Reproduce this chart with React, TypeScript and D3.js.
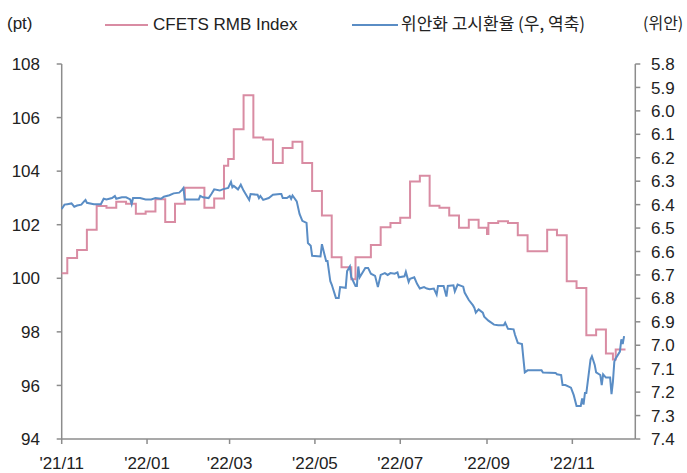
import React from "react";
import * as d3 from "d3";

const cfetsDates = [
  "2021-11-01","2021-11-05","2021-11-12","2021-11-19","2021-11-26","2021-12-03","2021-12-10","2021-12-17",
  "2021-12-24","2021-12-31","2022-01-07","2022-01-14","2022-01-21","2022-01-28","2022-02-11","2022-02-18",
  "2022-02-25","2022-02-28","2022-03-04","2022-03-11","2022-03-18","2022-03-25","2022-04-01","2022-04-08",
  "2022-04-15","2022-04-22","2022-04-29","2022-05-06","2022-05-13","2022-05-20","2022-05-27","2022-05-30",
  "2022-06-10","2022-06-17","2022-06-24","2022-07-01","2022-07-08","2022-07-15","2022-07-22","2022-07-29",
  "2022-08-05","2022-08-12","2022-08-19","2022-08-26","2022-09-01","2022-09-02","2022-09-09","2022-09-16",
  "2022-09-23","2022-09-30","2022-10-14","2022-10-21","2022-10-28","2022-11-04","2022-11-11","2022-11-18",
  "2022-11-25","2022-11-30","2022-12-02","2022-12-09"
];
const cfetsValues = [
  100.19,100.76,101.06,101.81,102.70,102.63,102.86,102.78,
  102.41,102.49,102.95,102.10,102.78,103.38,102.63,102.98,
  104.20,104.45,105.56,106.83,105.26,105.18,104.30,104.86,
  105.10,104.30,103.26,102.34,100.79,100.41,99.96,100.79,
  101.24,101.91,102.06,102.26,103.61,103.83,102.71,102.63,
  102.34,101.89,102.19,101.89,101.65,102.06,102.13,102.06,
  101.61,101.01,101.81,101.61,99.89,99.64,97.87,98.09,
  97.19,96.97,97.34,97.34
];

const rateDates = [
  "2021-11-01","2021-11-03","2021-11-05","2021-11-08","2021-11-10","2021-11-12","2021-11-15","2021-11-17",
  "2021-11-18","2021-11-19","2021-11-24","2021-11-29","2021-12-01","2021-12-03","2021-12-07","2021-12-09",
  "2021-12-10","2021-12-14","2021-12-17","2021-12-20","2021-12-21","2021-12-22","2021-12-27","2021-12-31",
  "2022-01-04","2022-01-07","2022-01-11","2022-01-13","2022-01-17","2022-01-20","2022-01-24","2022-01-26",
  "2022-01-27","2022-01-28","2022-02-07","2022-02-08","2022-02-10","2022-02-14","2022-02-16","2022-02-18",
  "2022-02-22","2022-02-24","2022-02-28","2022-03-02","2022-03-03","2022-03-04","2022-03-07","2022-03-09",
  "2022-03-11","2022-03-15","2022-03-16","2022-03-21","2022-03-22","2022-03-23","2022-03-25","2022-03-29",
  "2022-04-01","2022-04-06","2022-04-07","2022-04-08","2022-04-11","2022-04-13","2022-04-14","2022-04-15",
  "2022-04-18","2022-04-20","2022-04-22","2022-04-25","2022-04-26","2022-04-28","2022-04-29","2022-05-05",
  "2022-05-06","2022-05-09","2022-05-10","2022-05-12","2022-05-13","2022-05-16","2022-05-18","2022-05-19",
  "2022-05-23","2022-05-24","2022-05-26","2022-05-27","2022-05-30","2022-05-31","2022-06-01","2022-06-02",
  "2022-06-06","2022-06-08","2022-06-10","2022-06-13","2022-06-15","2022-06-17","2022-06-20","2022-06-22",
  "2022-06-24","2022-06-27","2022-06-29","2022-06-30","2022-07-04","2022-07-05","2022-07-07","2022-07-08",
  "2022-07-11","2022-07-13","2022-07-15","2022-07-18","2022-07-20","2022-07-22","2022-07-25","2022-07-27",
  "2022-07-28","2022-08-01","2022-08-03","2022-08-04","2022-08-08","2022-08-09","2022-08-11","2022-08-15",
  "2022-08-16","2022-08-19","2022-08-22","2022-08-23","2022-08-24","2022-08-26","2022-08-29","2022-08-30",
  "2022-09-02","2022-09-06","2022-09-09","2022-09-13","2022-09-14","2022-09-16","2022-09-20","2022-09-21",
  "2022-09-23","2022-09-26","2022-09-27","2022-09-28","2022-09-30","2022-10-10","2022-10-11","2022-10-20",
  "2022-10-21","2022-10-24","2022-10-25","2022-10-27","2022-10-31","2022-11-02","2022-11-04","2022-11-07",
  "2022-11-08","2022-11-09","2022-11-10","2022-11-11","2022-11-14","2022-11-15","2022-11-17","2022-11-18",
  "2022-11-21","2022-11-22","2022-11-23","2022-11-25","2022-11-28","2022-11-29","2022-11-30","2022-12-01",
  "2022-12-02","2022-12-05","2022-12-06","2022-12-07","2022-12-08"
];
const rateValues = [
  6.419,6.400,6.398,6.395,6.409,6.404,6.400,6.386,
  6.380,6.392,6.398,6.398,6.375,6.378,6.372,6.363,
  6.375,6.369,6.369,6.378,6.398,6.372,6.372,6.378,
  6.378,6.372,6.375,6.366,6.360,6.352,6.349,6.337,
  6.329,6.378,6.378,6.363,6.369,6.372,6.355,6.335,
  6.340,6.335,6.329,6.303,6.326,6.320,6.335,6.315,
  6.340,6.380,6.355,6.358,6.372,6.363,6.380,6.372,
  6.358,6.355,6.355,6.372,6.372,6.363,6.375,6.361,
  6.386,6.440,6.469,6.478,6.564,6.575,6.618,6.621,
  6.569,6.641,6.641,6.727,6.741,6.798,6.798,6.752,
  6.755,6.684,6.664,6.710,6.747,6.747,6.664,6.710,
  6.670,6.670,6.695,6.704,6.752,6.700,6.692,6.700,
  6.692,6.695,6.689,6.710,6.706,6.687,6.730,6.716,
  6.710,6.738,6.758,6.752,6.758,6.761,6.758,6.784,
  6.747,6.747,6.792,6.747,6.744,6.770,6.741,6.750,
  6.775,6.807,6.830,6.841,6.861,6.847,6.861,6.878,
  6.895,6.912,6.915,6.915,6.904,6.930,6.932,6.955,
  6.990,6.995,7.056,7.116,7.107,7.107,7.116,7.118,
  7.124,7.127,7.170,7.170,7.181,7.213,7.259,7.259,
  7.227,7.253,7.204,7.204,7.061,7.047,7.084,7.116,
  7.127,7.170,7.124,7.138,7.138,7.209,7.156,7.070,
  7.056,7.027,6.975,6.995,6.961
];

const leftTicks = [94, 96, 98, 100, 102, 104, 106, 108];
const rightTicks = [5.8, 5.9, 6.0, 6.1, 6.2, 6.3, 6.4, 6.5, 6.6, 6.7, 6.8, 6.9, 7.0, 7.1, 7.2, 7.3, 7.4];
const xTickDates = ["2021-11-01", "2022-01-01", "2022-03-01", "2022-05-01", "2022-07-01", "2022-09-01", "2022-11-01"];
const xTickLabels = ["'21/11", "'22/01", "'22/03", "'22/05", "'22/07", "'22/09", "'22/11"];
const seriesNames = ["CFETS RMB Index", "위안화 고시환율 (우, 역축)"];
const leftUnit = "(pt)";
const rightUnit = "(위안)";

export default function App() {
  const W = 687, H = 473;
  const parse = d3.timeParse("%Y-%m-%d");
  const x = d3.scaleTime()
    .domain([parse("2021-11-01") as Date, parse("2022-12-16") as Date])
    .range([61.7, 635.3]);
  const yL = d3.scaleLinear().domain([94, 108]).range([439, 64]);
  const yR = d3.scaleLinear().domain([7.4, 5.8]).range([439, 64]);

  const pinkData = cfetsDates.map((d, i) => ({ d: parse(d) as Date, v: cfetsValues[i] }));
  const blueData = rateDates.map((d, i) => ({ d: parse(d) as Date, v: rateValues[i] }));

  const pinkLine = d3.line<{ d: Date; v: number }>()
    .x(p => x(p.d)).y(p => yL(p.v)).curve(d3.curveStepAfter);
  const blueLine = d3.line<{ d: Date; v: number }>()
    .x(p => x(p.d)).y(p => yR(p.v));

  const pink = "#D98CA3";
  const blue = "#5A8DC5";
  const axis = "#8C8C8C";
  const txt = "#222";
  const font = "'Liberation Sans', Arial, sans-serif";
  const krFont = "'Noto Sans CJK KR', 'Liberation Sans', sans-serif";
  const x0 = x.range()[0], x1 = x.range()[1];
  const yTop = 64, yBot = 439;
  const fmt = d3.format(".1f");

  return (
    <svg width={W} height={H} style={{ position: "absolute", left: 0, top: 0, background: "#fff" }}
      fontFamily={font}>
      {/* legend */}
      <text x={7} y={29} fontSize={17} fill={txt}>{leftUnit}</text>
      <line x1={105} x2={148} y1={25} y2={25} stroke={pink} strokeWidth={2} />
      <text x={153} y={30} fontSize={17} fill={txt}>{seriesNames[0]}</text>
      <line x1={352} x2={398} y1={25} y2={25} stroke={blue} strokeWidth={2} />
      <text x={401} y={30} fontSize={17} fill={txt} fontFamily={krFont}>{seriesNames[1]}</text>
      <text x={643} y={29} fontSize={16} fill={txt} fontFamily={krFont}>{rightUnit}</text>

      {/* left axis */}
      <line x1={x0} x2={x0} y1={yTop} y2={yBot} stroke={axis} strokeWidth={1.5} />
      {leftTicks.map(t => (
        <g key={"l" + t}>
          <line x1={x0 - 5} x2={x0} y1={yL(t)} y2={yL(t)} stroke={axis} strokeWidth={1.5} />
          <text x={40} y={yL(t)} dy="0.36em" textAnchor="end" fontSize={17} fill={txt}>{t}</text>
        </g>
      ))}

      {/* right axis */}
      <line x1={x1} x2={x1} y1={yTop} y2={yBot} stroke={axis} strokeWidth={1.5} />
      {rightTicks.map(t => (
        <g key={"r" + t}>
          <line x1={x1} x2={x1 + 5} y1={yR(t)} y2={yR(t)} stroke={axis} strokeWidth={1.5} />
          <text x={651} y={yR(t)} dy="0.36em" textAnchor="start" fontSize={17} fill={txt}>{fmt(t)}</text>
        </g>
      ))}

      {/* bottom axis */}
      <line x1={x0} x2={x1} y1={yBot} y2={yBot} stroke={axis} strokeWidth={1.5} />
      {xTickDates.map((d, i) => {
        const xx = x(parse(d) as Date);
        return (
          <g key={"x" + d}>
            <line x1={xx} x2={xx} y1={yBot} y2={yBot + 5} stroke={axis} strokeWidth={1.5} />
            <text x={xx} y={469} textAnchor="middle" fontSize={17} fill={txt}>{xTickLabels[i]}</text>
          </g>
        );
      })}

      {/* series */}
      <path d={pinkLine(pinkData) || ""} fill="none" stroke={pink} strokeWidth={2} />
      <path d={blueLine(blueData) || ""} fill="none" stroke={blue} strokeWidth={2} />
    </svg>
  );
}
